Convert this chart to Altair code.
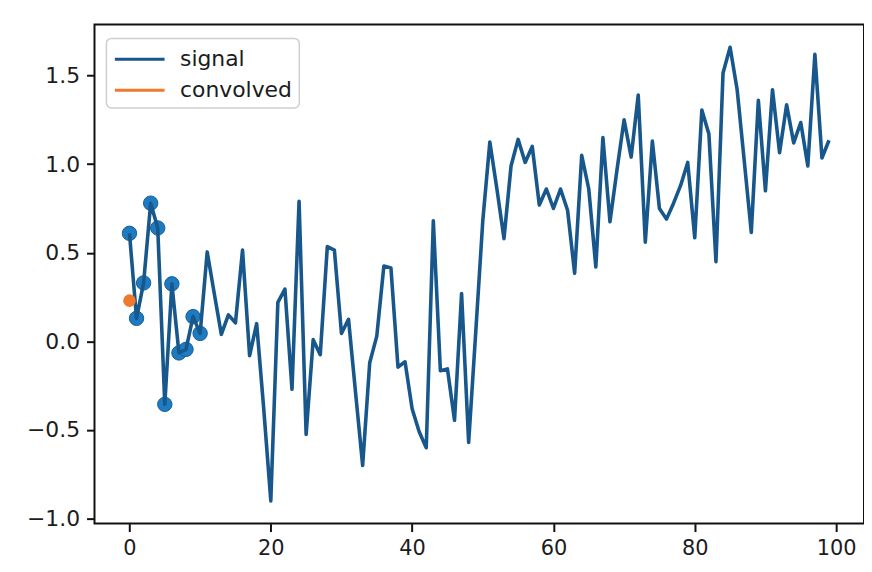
import altair as alt
import pandas as pd

# ---- data ----
sample_index = list(range(100))
signal_values = [
    0.61, 0.13, 0.33, 0.78, 0.64, -0.355, 0.325, -0.065, -0.045, 0.14,
    0.045, 0.505, 0.27, 0.04, 0.15, 0.105, 0.515, -0.08, 0.10, -0.38,
    -0.90, 0.22, 0.295, -0.27, 0.79, -0.525, 0.01, -0.075, 0.535, 0.515,
    0.045, 0.125, -0.29, -0.70, -0.12, 0.03, 0.425, 0.415, -0.145, -0.115,
    -0.38, -0.51, -0.60, 0.68, -0.165, -0.155, -0.445, 0.27, -0.57, 0.05,
    0.68, 1.125, 0.86, 0.58, 0.99, 1.14, 1.01, 1.10, 0.77, 0.86,
    0.75, 0.86, 0.74, 0.385, 1.05, 0.86, 0.42, 1.15, 0.675, 0.97,
    1.25, 1.04, 1.39, 0.56, 1.13, 0.75, 0.69, 0.78, 0.88, 1.01,
    0.585, 1.305, 1.17, 0.45, 1.515, 1.66, 1.42, 1.02, 0.615, 1.36,
    0.85, 1.42, 1.065, 1.335, 1.12, 1.235, 0.99, 1.62, 1.035, 1.135,
]
marked_count = 11          # first samples drawn with circle markers
convolved_x = [0]
convolved_y = [0.23]

series_names = ["signal", "convolved"]
series_colors = ["#17578b", "#f07a2c"]
x_tick_values = [0, 20, 40, 60, 80, 100]
y_tick_values = [-1.0, -0.5, 0.0, 0.5, 1.0, 1.5]

# ---- tables ----
signal_df = pd.DataFrame({"x": sample_index, "y": signal_values, "series": "signal"})
marked_df = signal_df.iloc[:marked_count]
conv_df = pd.DataFrame({"x": convolved_x, "y": convolved_y, "series": "convolved"})

# matplotlib-like 5% margins
xmin, xmax = min(sample_index), max(sample_index)
ymin, ymax = min(signal_values), max(signal_values)
xpad = 0.05 * (xmax - xmin)
ypad = 0.05 * (ymax - ymin)
x_scale = alt.Scale(domain=[xmin - xpad, xmax + xpad], nice=False, zero=False)
y_scale = alt.Scale(domain=[ymin - ypad, ymax + ypad], nice=False, zero=False)

x_enc = alt.X("x:Q", scale=x_scale, axis=alt.Axis(
    values=x_tick_values, format="d", title=None, grid=False, domain=False,
    tickSize=8, tickWidth=2, tickColor="#111", labelFontSize=21,
    labelColor="#1c1c1c", labelPadding=6, labelFont="DejaVu Sans"))
y_enc = alt.Y("y:Q", scale=y_scale, axis=alt.Axis(
    values=y_tick_values, format=".1f", title=None, grid=False, domain=False,
    tickSize=8, tickWidth=2, tickColor="#111", labelFontSize=22,
    labelColor="#1c1c1c", labelPadding=7, labelFont="DejaVu Sans"))

color_enc = alt.Color("series:N", scale=alt.Scale(domain=series_names, range=series_colors),
                      legend=alt.Legend(title=None))

markers = alt.Chart(marked_df).mark_point(
    filled=True, size=210, color="#1f7bc1", opacity=1,
    stroke="#175f98", strokeWidth=1).encode(x=x_enc, y=y_enc)

line = alt.Chart(signal_df).mark_line(
    strokeWidth=3.6, strokeJoin="round").encode(x=x_enc, y=y_enc, color=color_enc)

conv_point = alt.Chart(conv_df).mark_point(
    filled=True, size=160, opacity=1).encode(x=x_enc, y=y_enc, color=color_enc)

chart = alt.layer(markers, line, conv_point).properties(
    width=774, height=502,
    autosize=alt.AutoSizeParams(type="none"),
    padding={"left": 87, "top": 15, "right": 0, "bottom": 37},
    background="white",
).configure_view(
    stroke="#111", strokeWidth=2
).configure_legend(
    orient="none", legendX=12, legendY=14,
    padding=7, strokeColor="#cfcfcf", strokeWidth=1.5, cornerRadius=5,
    fillColor="white",
    labelFontSize=22, labelFont="DejaVu Sans", labelColor="#1c1c1c",
    symbolType="M-1,0H3", symbolSize=625, symbolStrokeWidth=3,
    rowPadding=6, labelOffset=39,
)

chart.save("out.html", embed_options={"renderer": "svg", "actions": False})
